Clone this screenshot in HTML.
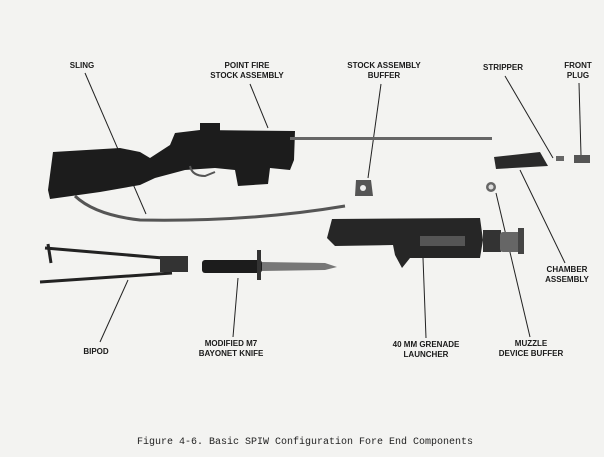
<!DOCTYPE html>
<html><head><meta charset="utf-8"><style>
html,body{margin:0;padding:0;background:#f3f3f1;}
svg{display:block}
.l{font-family:"Liberation Sans",sans-serif;font-weight:bold;font-size:8px;fill:#1a1a1a;text-anchor:middle}
.c{font-family:"Liberation Mono",monospace;font-size:10px;fill:#222}
</style></head><body>
<svg width="604" height="457" viewBox="0 0 604 457" xmlns="http://www.w3.org/2000/svg">
<rect width="604" height="457" fill="#f3f3f1"/>
<text class="l" x="82" y="68">SLING</text>
<text class="l" x="247" y="68">POINT FIRE</text>
<text class="l" x="247" y="78">STOCK ASSEMBLY</text>
<text class="l" x="384" y="68">STOCK ASSEMBLY</text>
<text class="l" x="384" y="78">BUFFER</text>
<text class="l" x="503" y="70">STRIPPER</text>
<text class="l" x="578" y="68">FRONT</text>
<text class="l" x="578" y="78">PLUG</text>
<text class="l" x="567" y="272">CHAMBER</text>
<text class="l" x="567" y="282">ASSEMBLY</text>
<text class="l" x="96" y="354">BIPOD</text>
<text class="l" x="231" y="346">MODIFIED M7</text>
<text class="l" x="231" y="356">BAYONET KNIFE</text>
<text class="l" x="426" y="347">40 MM GRENADE</text>
<text class="l" x="426" y="357">LAUNCHER</text>
<text class="l" x="531" y="346">MUZZLE</text>
<text class="l" x="531" y="356">DEVICE BUFFER</text>
<text class="c" x="137" y="444">Figure 4-6.  Basic SPIW Configuration Fore End Components</text>
<g stroke="#222" stroke-width="1" fill="none">
<line x1="85" y1="73" x2="146" y2="214"/>
<line x1="250" y1="84" x2="268" y2="128"/>
<line x1="381" y1="84" x2="368" y2="178"/>
<line x1="505" y1="76" x2="553" y2="158"/>
<line x1="579" y1="83" x2="581" y2="155"/>
<line x1="565" y1="263" x2="520" y2="170"/>
<line x1="100" y1="342" x2="128" y2="280"/>
<line x1="233" y1="337" x2="238" y2="278"/>
<line x1="426" y1="338" x2="423" y2="258"/>
<line x1="530" y1="337" x2="496" y2="193"/>
</g>
<!-- rifle -->
<g fill="#1c1c1c">
<path d="M53 152 L120 148 L140 152 L150 158 L170 145 L175 133 L200 130 L295 131 L294 160 L290 170 L270 168 L268 184 L238 186 L235 170 L215 168 L185 170 L170 174 L155 178 L140 185 L100 192 L50 199 L48 190 Z"/>
<rect x="290" y="137" width="202" height="3" fill="#666"/>
<rect x="200" y="123" width="20" height="9"/>
</g>
<path d="M190 166 Q192 176 205 176 L215 172" stroke="#555" stroke-width="2" fill="none"/>
<path d="M75 196 Q95 215 140 220 Q250 222 345 206" stroke="#555" stroke-width="3" fill="none"/>
<path d="M356 180 L371 180 L373 196 L355 196 Z" fill="#555"/>
<circle cx="363" cy="188" r="3" fill="#eee"/>
<rect x="556" y="156" width="8" height="5" fill="#666"/>
<rect x="574" y="155" width="16" height="8" fill="#555"/>
<path d="M494 157 L540 152 L548 166 L496 169 Z" fill="#2a2a2a"/>
<circle cx="491" cy="187" r="5" fill="#666"/>
<circle cx="491" cy="187" r="2.5" fill="#ddd"/>
<!-- bipod -->
<g stroke="#222" stroke-width="3" fill="none">
<line x1="45" y1="248" x2="175" y2="259"/>
<line x1="40" y1="282" x2="172" y2="273"/>
<line x1="48" y1="244" x2="51" y2="263"/>
</g>
<rect x="160" y="256" width="28" height="16" fill="#333"/>
<rect x="202" y="260" width="60" height="13" rx="3" fill="#1c1c1c"/>
<rect x="257" y="250" width="4" height="30" fill="#333"/>
<path d="M262 262 L325 263 L337 267 L325 270 L262 271 Z" fill="#777"/>
<!-- launcher -->
<path d="M332 219 L480 218 L483 240 L480 258 L410 258 L402 268 L395 255 L393 245 L335 246 L327 238 Z" fill="#262626"/>
<rect x="420" y="236" width="45" height="10" fill="#555"/>
<rect x="483" y="230" width="18" height="22" fill="#333"/>
<rect x="500" y="232" width="22" height="20" rx="3" fill="#666"/>
<rect x="518" y="228" width="6" height="26" fill="#444"/>
</svg>
</body></html>
